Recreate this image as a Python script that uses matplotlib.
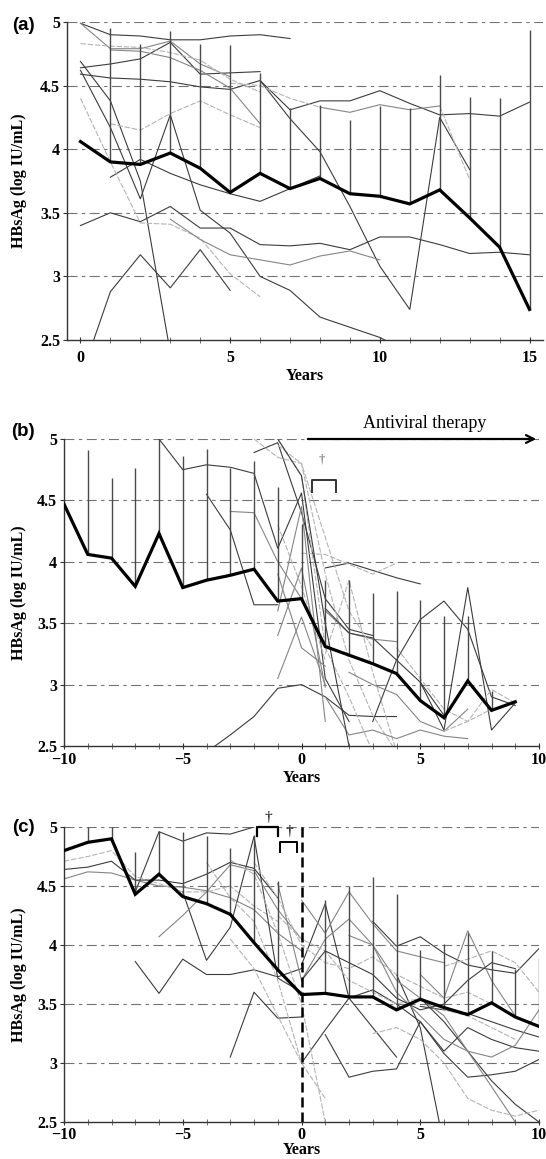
import matplotlib
matplotlib.use("Agg")
import matplotlib.pyplot as plt
from matplotlib.ticker import MultipleLocator

# ----------------------------
# DATA
# ----------------------------
Y_TICKS = [2.5, 3, 3.5, 4, 4.5, 5]
Y_LABELS = ["2.5", "3", "3.5", "4", "4.5", "5"]
GRID_LEVELS = [3, 3.5, 4, 4.5, 5]

# (a) untreated follow-up, years 0..15
A_YEARS = list(range(0, 16))
A_MEAN = [4.06, 3.90, 3.88, 3.97, 3.85, 3.66, 3.81, 3.69, 3.77, 3.65, 3.63, 3.57, 3.68, 3.46, 3.23, 2.74]
A_SD_TOP = [4.06, 4.95, 4.83, 4.93, 4.83, 4.82, 4.60, 4.32, 4.35, 4.23, 4.34, 4.32, 4.58, 4.41, 4.40, 4.94]
A_XTICKS = [0, 5, 10, 15]
A_XLABELS = ["0", "5", "10", "15"]
# individual patients: (first year, values)
A_PATIENTS = [
    (0, [4.99, 4.90, 4.89, 4.86, 4.86, 4.89, 4.90, 4.87]),
    (0, [4.64, 4.67, 4.71, 4.84, 4.59, 4.60, 4.61]),
    (0, [4.59, 4.56, 4.55, 4.53, 4.49, 4.47, 4.54, 4.24, 3.98, 3.55, 3.08, 2.74, 4.25, 3.84]),
    (6, [4.54, 4.31, 4.38, 4.38, 4.46, 4.36, 4.27, 4.28, 4.26, 4.37]),
    (8, [4.33, 4.29, 4.35, 4.31, 4.34]),
    (0, [3.40, 3.50, 3.43, 3.55, 3.38, 3.38, 3.25, 3.24, 3.26, 3.21, 3.31, 3.31, 3.25, 3.18, 3.19, 3.17]),
    (1, [3.78, 3.92, 3.81, 3.72, 3.65, 3.59, 3.69, 3.79]),
    (0, [2.20, 2.88, 3.17, 2.91, 3.21, 2.89]),
    (0, [4.69, 4.38, 3.75, 2.40]),
    (0, [4.62, 4.17, 3.61, 4.27, 3.52, 3.34, 3.00, 2.89, 2.68, 2.60, 2.52, 2.40]),
    (0, [4.99, 4.79, 4.79, 4.85, 4.67, 4.57]),
    (0, [4.83, 4.81, 4.80, 4.76, 4.70, 4.55, 4.45]),
    (1, [4.78, 4.77, 4.72, 4.62, 4.48, 4.20]),
    (0, [4.40, 3.90, 3.42, 3.41, 3.30, 3.02, 2.84]),
    (1, [4.20, 4.15, 4.28, 4.38, 4.27, 4.17]),
    (12, [4.34, 3.76]),
    (3, [3.45, 3.29, 3.17, 3.13, 3.09, 3.16, 3.20, 3.13]),
    (5, [4.52, 4.50, 4.40, 4.33]),
]
A_TONES = "ddddgdddddglglllgl"

# (b) patients who started antiviral therapy at year 0
B_YEARS = list(range(-10, 10))
B_MEAN = [4.47, 4.06, 4.03, 3.80, 4.23, 3.79, 3.85, 3.89, 3.94, 3.68,
          3.70, 3.31, 3.24, 3.17, 3.09, 2.87, 2.73, 3.03, 2.79, 2.86]
B_SD_TOP = [4.47, 4.91, 4.68, 4.76, 5.00, 4.86, 4.92, 4.76, 4.82, 4.61,
            4.31, 3.85, 3.85, 3.75, 3.76, 3.69, 3.56, 3.56, 2.95, 2.86]
B_PATIENTS = [
    (-6, [5.00, 4.75, 4.79, 4.77, 4.72, 4.11, 4.56, 3.05, 2.70]),
    (-4, [4.55, 4.26, 3.65, 3.65]),
    (-3, [4.41, 4.40, 4.00, 3.70]),
    (-4, [2.45, 2.59, 2.74, 2.97, 3.00, 2.90, 2.75, 2.74, 2.74]),
    (1, [3.95, 3.99, 3.93, 3.87, 3.82]),
    (0, [4.07, 4.06, 3.98, 3.90, 3.99]),
    (-2, [4.89, 4.97, 4.40, 3.70, 3.45, 3.40]),
    (3, [2.70, 3.20, 3.53, 3.68, 3.45, 2.90, 2.83]),
    (5, [3.02, 2.63, 3.79, 2.63, 2.85]),
    (1, [3.25, 3.85, 3.10, 2.45]),
    (-1, [5.00, 4.70, 3.30, 2.90, 2.45]),
    (-1, [4.95, 4.80, 3.90, 3.20, 2.75, 2.45]),
    (1, [2.90, 2.59, 2.63, 2.56, 2.63, 2.58, 2.56]),
    (1, [3.60, 3.42, 3.37, 3.35]),
    (1, [3.62, 3.42, 3.38, 3.20, 3.02, 2.75]),
    (-1, [3.60, 4.45, 2.70]),
    (-1, [3.90, 3.30, 3.15]),
    (-1, [3.05, 3.55, 3.00]),
    (-1, [4.30, 3.80, 3.20]),
    (-1, [3.40, 3.95, 2.98]),
    (4, [3.30, 3.05, 2.80, 2.70, 2.96, 2.85]),
    (2, [3.10, 3.00, 2.92, 2.70, 2.62, 2.80]),
    (-2, [5.00, 4.85, 4.80, 4.20, 3.60, 3.30]),
    (-1, [5.00, 4.70, 3.50, 2.50]),
    (6, [2.62, 2.70, 2.80, 2.85]),
]
B_TONES = "ddgddldddlllggdggglglgldl"

# (c) second treated group
C_YEARS = list(range(-10, 11))
C_MEAN = [4.80, 4.87, 4.90, 4.43, 4.60, 4.41, 4.35, 4.26, 4.02, 3.79, 3.58,
          3.59, 3.56, 3.56, 3.45, 3.54, 3.47, 3.41, 3.51, 3.39, 3.31]
C_SD_TOP = [4.80, 5.00, 5.00, 4.79, 4.97, 4.96, 4.92, 4.82, 4.93, 4.54, 3.58,
            4.38, 4.50, 4.58, 4.43, 3.96, 4.01, 4.10, 3.95, 3.80, 3.89]
C_PATIENTS = [
    (-7, [4.45, 4.96, 4.88, 4.95, 4.94, 5.00]),
    (-10, [4.56, 4.62, 4.61, 4.55, 4.50, 4.49, 4.46, 4.40, 4.30, 4.10, 3.95]),
    (-10, [4.71, 4.75, 4.80, 4.58, 4.52, 4.45, 4.45, 4.50, 4.33, 4.20]),
    (-10, [4.64, 4.66, 4.71, 4.55, 4.55, 4.52, 4.60, 4.70, 4.65, 4.40]),
    (-7, [3.86, 3.59, 3.88, 3.75, 3.75, 3.79, 3.73, 3.80]),
    (-5, [4.45, 3.87, 4.15, 4.92, 3.72, 3.60]),
    (-6, [4.07, 4.25, 4.45, 4.68, 4.63, 4.30, 4.05]),
    (-3, [3.05, 3.60, 3.38, 3.39]),
    (3, [4.20, 3.99, 4.07, 3.93, 3.83, 3.79, 3.76, 3.97]),
    (5, [3.75, 3.55, 4.12, 3.70, 3.40]),
    (0, [3.00, 3.28, 3.55, 3.62, 3.50, 3.35, 3.10, 3.30, 3.20, 3.13, 3.10]),
    (1, [3.24, 2.88, 2.93, 2.95, 3.35, 3.08, 2.88, 2.90, 2.93, 3.03]),
    (4, [3.75, 3.30, 2.30]),
    (5, [3.55, 3.35, 3.10, 2.85, 2.65, 2.50]),
    (5, [3.48, 3.45, 3.42, 3.35, 3.28, 3.22]),
    (0, [3.83, 4.35, 3.55, 3.30, 3.05]),
    (0, [4.38, 4.10, 4.45, 4.18, 3.95, 3.90, 3.85]),
    (-1, [4.52, 3.70, 4.05, 4.22, 4.00, 3.70, 3.55, 3.40, 3.10, 2.80, 2.50]),
    (-2, [4.70, 4.40, 4.00, 3.85, 3.80, 3.90, 3.75, 3.65, 3.55, 3.60, 3.50]),
    (-1, [4.25, 4.05, 3.95, 3.70, 3.60, 3.50, 3.55, 3.45, 3.40, 3.30, 3.20]),
    (-3, [4.72, 4.60, 4.10, 3.50, 2.50]),
    (-4, [4.70, 4.40, 4.20, 3.70, 3.00]),
    (6, [3.82, 3.88, 3.95, 3.85, 3.60]),
    (2, [4.08, 4.00, 3.60, 3.40, 3.20, 3.10, 3.05, 3.15, 3.45]),
    (3, [3.25, 3.30, 3.20, 3.00, 2.70, 2.60, 2.55, 2.60]),
    (0, [3.70, 3.95, 3.85, 3.75, 3.55, 3.45, 3.50, 3.70, 3.85, 3.80]),
    (-3, [4.05, 3.80, 3.40, 3.00, 2.70]),
]
C_TONES = "dgldddgddgddddddgglllllgldl"

BC_XTICKS = [-10, -5, 0, 5, 10]
BC_XLABELS = ["\u221210", "\u22125", "0", "5", "10"]

TONE_COLOR = {"d": "#3c3c3c", "g": "#858585", "l": "#b4b4b4"}

# ----------------------------
# STYLE
# ----------------------------
SERIF = ["Liberation Serif", "DejaVu Serif"]
plt.rcParams["font.family"] = SERIF
plt.rcParams["font.weight"] = "bold"

fig = plt.figure(figsize=(5.46, 11.59), dpi=100)
W, H = 546, 1159


def rect(left, right, top, bottom):
    return [left / W, 1 - bottom / H, (right - left) / W, (bottom - top) / H]


ax_a = fig.add_axes(rect(67, 543, 22, 340))
ax_b = fig.add_axes(rect(64, 539, 439, 746))
ax_c = fig.add_axes(rect(64, 539, 827, 1122))


def draw_panel(ax, years, mean, sd_top, patients, tones, xlim, xticks, xlabels, label_y, xpad):
    for lvl in GRID_LEVELS:
        ax.axhline(lvl, color="#727272", lw=0.8, ls=(0, (9, 4, 3, 4)), zorder=1)
    for (start, vals), tone in zip(patients, tones):
        xs = list(range(start, start + len(vals)))
        ls = (0, (5, 1.5)) if tone == "l" else "-"
        ax.plot(xs, vals, color=TONE_COLOR[tone], lw=0.8, ls=ls, zorder=2)
    ax.vlines(years, mean, sd_top, color="#4a4a4a", lw=1.0, zorder=3)
    ax.plot(years, mean, color="black", lw=2.3, zorder=4, solid_joinstyle="miter")

    ax.set_xlim(*xlim)
    ax.set_ylim(2.5, 5.0)
    ax.set_yticks(Y_TICKS)
    ax.set_yticklabels(Y_LABELS)
    ax.set_xticks(xticks)
    ax.set_xticklabels(xlabels)
    ax.xaxis.set_minor_locator(MultipleLocator(1))
    for s in ("top", "right"):
        ax.spines[s].set_visible(False)
    for s in ("left", "bottom"):
        ax.spines[s].set_linewidth(1.0)
        ax.spines[s].set_color("#333333")
    ax.tick_params(axis="x", which="major", direction="inout", length=5, pad=xpad,
                   labelsize=11.5, colors="#333333", labelcolor="black")
    ax.tick_params(axis="x", which="minor", direction="inout", length=4, colors="#555555")
    ax.tick_params(axis="y", direction="out", length=3, pad=2, labelsize=11.5,
                   colors="#333333", labelcolor="black")
    for t in ax.get_xticklabels() + ax.get_yticklabels():
        t.set_fontweight("bold")

    ax.set_ylabel("HBsAg (log IU/mL)", fontsize=11.5, fontweight="bold")
    ax.set_xlabel("Years", fontsize=11.5, fontweight="bold")
    ax.xaxis.set_label_coords(0.5, label_y)


draw_panel(ax_a, A_YEARS, A_MEAN, A_SD_TOP, A_PATIENTS, A_TONES,
           (-0.45, 15.45), A_XTICKS, A_XLABELS, -0.088, 5)
draw_panel(ax_b, B_YEARS, B_MEAN, B_SD_TOP, B_PATIENTS, B_TONES,
           (-10, 10), BC_XTICKS, BC_XLABELS, -0.078, 2)
draw_panel(ax_c, C_YEARS, C_MEAN, C_SD_TOP, C_PATIENTS, C_TONES,
           (-10, 10), BC_XTICKS, BC_XLABELS, -0.069, 1)

ax_a.yaxis.set_label_coords(-0.084, 0.5)
ax_b.yaxis.set_label_coords(-0.078, 0.5)
ax_c.yaxis.set_label_coords(-0.078, 0.5)

# (b) antiviral therapy arrow and bracket
ax_b.annotate("", xy=(10, 5.0), xytext=(0.15, 5.0),
              arrowprops=dict(arrowstyle="->", color="black", lw=1.6,
                              mutation_scale=14),
              annotation_clip=False)
ax_b.text(5.2, 5.13, "Antiviral therapy", ha="center", va="center",
          fontsize=13, fontweight="normal", clip_on=False)
ax_b.plot([0.43, 0.43, 1.44, 1.44], [4.57, 4.67, 4.67, 4.57], color="#333333", lw=1.4,
          clip_on=False, zorder=5)
ax_b.text(0.85, 4.83, "\u2020", ha="center", va="center", fontsize=9,
          fontweight="normal", color="#555555")

# (c) start of therapy line and brackets
ax_c.axvline(0, color="black", lw=1.8, ls=(0, (4, 2)), zorder=5)
ax_c.plot([-1.89, -1.89, -0.98, -0.98], [4.92, 5.0, 5.0, 4.92], color="black", lw=1.6,
          clip_on=False, zorder=5)
ax_c.plot([-0.91, -0.91, -0.18, -0.18], [4.79, 4.87, 4.87, 4.79], color="black", lw=1.4,
          clip_on=False, zorder=5)
ax_c.text(-1.41, 5.08, "\u2020", ha="center", va="center", fontsize=11,
          fontweight="normal", clip_on=False)
ax_c.text(-0.51, 4.96, "\u2020", ha="center", va="center", fontsize=11,
          fontweight="normal", clip_on=False)

# panel letters
for letter, ypix in (("(a)", 25), ("(b)", 432), ("(c)", 827)):
    fig.text(23 / W, 1 - ypix / H, letter, ha="center", va="center", fontsize=13.5,
             fontweight="bold", family=["Liberation Sans", "DejaVu Sans"])

fig.savefig("out.png", dpi=100)
